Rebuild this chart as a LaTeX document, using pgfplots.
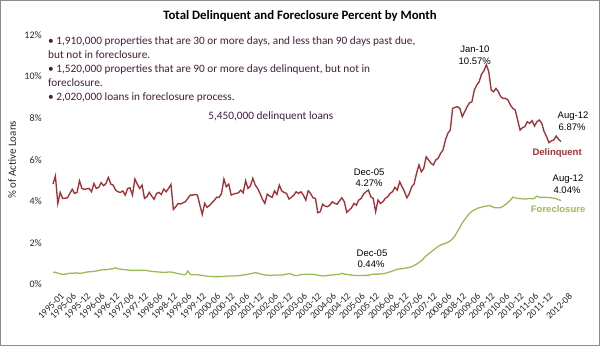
\documentclass[border=0pt]{standalone}
\usepackage{pgfplots}
\pgfplotsset{compat=1.18}
\usepackage{pgfplotstable}
\usepackage{fontspec}
\setmainfont{Carlito}
\newfontfamily\arialf{Liberation Sans}
\definecolor{delq}{RGB}{160,50,55}
\definecolor{fore}{RGB}{155,187,89}
\definecolor{txt}{RGB}{70,28,62}
\pgfplotstableread{
m d f
0 4.83 0.59
1 5.22 0.59
2 3.90 0.55
3 4.43 0.51
4 4.14 0.49
5 4.15 0.50
6 4.17 0.52
7 4.38 0.54
8 4.58 0.54
9 4.38 0.55
10 4.43 0.56
11 4.99 0.53
12 4.62 0.55
13 4.58 0.57
14 4.60 0.60
15 4.62 0.61
16 4.46 0.62
17 4.86 0.63
18 4.62 0.65
19 4.67 0.67
20 4.90 0.70
21 4.75 0.71
22 4.86 0.71
23 5.15 0.73
24 4.83 0.75
25 4.78 0.76
26 4.54 0.81
27 4.46 0.75
28 4.43 0.74
29 4.50 0.72
30 4.30 0.71
31 4.62 0.70
32 4.65 0.68
33 4.30 0.68
34 5.07 0.68
35 4.83 0.68
36 4.62 0.68
37 4.78 0.68
38 4.14 0.69
39 4.22 0.67
40 4.43 0.65
41 4.25 0.63
42 4.10 0.62
43 4.38 0.61
44 4.43 0.60
45 4.33 0.59
46 4.59 0.59
47 4.46 0.59
48 4.62 0.60
49 4.81 0.60
50 3.61 0.58
51 3.74 0.55
52 3.90 0.52
53 3.87 0.50
54 3.93 0.48
55 3.98 0.47
56 4.14 0.65
57 4.30 0.48
58 4.30 0.47
59 4.33 0.47
60 4.30 0.47
61 3.82 0.45
62 3.37 0.44
63 3.90 0.42
64 3.71 0.40
65 3.80 0.39
66 3.93 0.38
67 4.05 0.38
68 4.20 0.38
69 4.19 0.38
70 4.38 0.38
71 5.07 0.39
72 4.70 0.40
73 4.83 0.41
74 4.30 0.41
75 4.35 0.41
76 4.38 0.42
77 4.41 0.42
78 4.54 0.44
79 4.41 0.46
80 4.99 0.47
81 4.62 0.49
82 4.74 0.52
83 5.11 0.54
84 4.78 0.57
85 4.62 0.55
86 4.38 0.51
87 4.10 0.48
88 3.90 0.46
89 4.35 0.45
90 4.25 0.44
91 4.19 0.44
92 4.50 0.45
93 4.33 0.46
94 4.78 0.46
95 4.50 0.46
96 4.43 0.47
97 4.38 0.50
98 4.11 0.52
99 4.19 0.50
100 4.30 0.45
101 4.46 0.43
102 4.38 0.44
103 4.46 0.48
104 4.30 0.48
105 4.06 0.49
106 4.51 0.49
107 4.38 0.49
108 4.17 0.49
109 4.14 0.47
110 3.45 0.45
111 3.50 0.43
112 3.86 0.41
113 3.77 0.42
114 3.74 0.43
115 3.82 0.45
116 3.98 0.46
117 3.90 0.47
118 3.86 0.48
119 4.03 0.49
120 4.17 0.54
121 3.98 0.50
122 3.47 0.49
123 3.58 0.47
124 3.69 0.45
125 3.90 0.44
126 3.82 0.43
127 4.06 0.43
128 4.14 0.43
129 4.35 0.44
130 4.46 0.44
131 4.54 0.44
132 4.22 0.48
133 4.14 0.49
134 3.50 0.50
135 4.06 0.50
136 3.90 0.51
137 3.98 0.52
138 4.14 0.54
139 4.22 0.57
140 4.38 0.61
141 4.46 0.65
142 4.67 0.69
143 4.54 0.73
144 4.94 0.75
145 4.70 0.76
146 4.46 0.78
147 4.17 0.80
148 4.38 0.82
149 4.70 0.86
150 4.84 0.92
151 5.35 0.98
152 5.75 1.06
153 5.42 1.14
154 5.59 1.26
155 6.14 1.38
156 5.99 1.47
157 5.83 1.56
158 5.75 1.66
159 5.99 1.75
160 6.07 1.83
161 6.31 1.90
162 6.47 1.94
163 6.95 1.98
164 7.27 2.03
165 7.43 2.10
166 8.47 2.20
167 8.52 2.35
168 8.55 2.55
169 8.47 2.75
170 8.07 2.96
171 8.31 3.12
172 8.55 3.28
173 8.74 3.42
174 8.79 3.52
175 9.35 3.59
176 9.59 3.65
177 9.75 3.69
178 10.12 3.72
179 10.28 3.75
180 10.57 3.77
181 10.23 3.80
182 9.35 3.77
183 9.27 3.71
184 9.43 3.69
185 9.27 3.69
186 9.03 3.70
187 8.95 3.77
188 8.95 3.85
189 8.87 3.95
190 8.63 4.06
191 8.47 4.20
192 8.39 4.17
193 7.91 4.14
194 7.43 4.13
195 7.54 4.12
196 7.59 4.11
197 7.83 4.12
198 7.75 4.14
199 7.88 4.12
200 7.62 4.15
201 7.83 4.25
202 7.91 4.20
203 7.75 4.19
204 7.35 4.19
205 7.11 4.19
206 6.82 4.18
207 6.91 4.17
208 6.95 4.15
209 7.14 4.13
210 6.98 4.08
211 6.87 4.04
}\datatable
\begin{document}
\begin{tikzpicture}
\begin{axis}[
  at={(0pt,0pt)}, anchor=south west,
  scale only axis, width=510.4pt, height=249.5pt,
  xmin=-0.5, xmax=211.5, ymin=0, ymax=12,
  axis line style={draw=none}, tick style={draw=none},
  clip=false,
  /pgf/number format/assume math mode=true,
  ytick={0,2,4,6,8,10,12},
  yticklabel={\pgfmathprintnumber{\tick}\%},
  yticklabel style={font=\fontsize{10}{12}\selectfont, text=black!85, xshift=-6.5pt},
  xtick={0,5,11,17,23,29,35,41,47,53,59,65,71,77,83,89,95,101,107,113,119,125,131,137,143,149,155,161,167,173,179,185,191,197,203,211},
  xticklabels={1995-01,1995-06,1995-12,1996-06,1996-12,1997-06,1997-12,1998-06,1998-12,1999-06,1999-12,2000-06,2000-12,2001-06,2001-12,2002-06,2002-12,2003-06,2003-12,2004-06,2004-12,2005-06,2005-12,2006-06,2006-12,2007-06,2007-12,2008-06,2008-12,2009-06,2009-12,2010-06,2010-12,2011-06,2011-12,2012-08},
  xticklabel style={font=\fontsize{9.6}{11}\selectfont, text=black!85, rotate=45, anchor=north east, inner sep=0.5pt, yshift=-10pt},
]
\addplot[color=delq, line width=1.35pt] table[x=m, y=d] {\datatable};
\addplot[color=fore, line width=1.3pt] table[x=m, y=f] {\datatable};

\node[font=\fontsize{12.8}{15}\selectfont\bfseries] at (axis cs:102.6,12.91) {Total Delinquent and Foreclosure Percent by Month};
\node[rotate=90, font=\fontsize{11}{13}\selectfont, text=black!85] at (axis cs:-17.0,6) {\% of Active Loans};

\begin{scope}[every node/.style={anchor=base west, inner sep=0pt, text=txt, font=\fontsize{11.3}{13}\selectfont}]
\node at (axis cs:-2.08,11.54) {• 1,910,000 properties that are 30 or more days, and less than 90 days past due,};
\node at (axis cs:-2.08,10.87) {but not in foreclosure.};
\node at (axis cs:-2.08,10.21) {• 1,520,000 properties that are 90 or more days delinquent, but not in};
\node at (axis cs:-2.08,9.54) {foreclosure.};
\node at (axis cs:-2.08,8.87) {• 2,020,000 loans in foreclosure process.};
\end{scope}
\node[text=txt, font=\fontsize{11.3}{13}\selectfont] at (axis cs:90.5,8.06) {5,450,000 delinquent loans};

\begin{scope}[every node/.style={inner sep=0pt, font=\arialf\fontsize{9.5}{11}\selectfont}]
\node at (axis cs:175.2,11.33) {Jan-10};
\node at (axis cs:175.2,10.75) {10.57\%};
\node at (axis cs:216.0,8.10) {Aug-12};
\node at (axis cs:215.6,7.58) {6.87\%};
\node at (axis cs:131.3,5.41) {Dec-05};
\node at (axis cs:131.3,4.88) {4.27\%};
\node at (axis cs:213.9,5.07) {Aug-12};
\node at (axis cs:213.5,4.55) {4.04\%};
\node at (axis cs:132.5,1.52) {Dec-05};
\node at (axis cs:132.1,0.99) {0.44\%};
\node[text=delq, font=\arialf\bfseries\fontsize{9.5}{11}\selectfont] at (axis cs:209.4,6.33) {Delinquent};
\node[text=fore, font=\arialf\bfseries\fontsize{9.5}{11}\selectfont] at (axis cs:209.8,3.63) {Foreclosure};
\end{scope}
\end{axis}
\draw[line width=1.5pt, color=black!45] (-51.05pt,-60.75pt) rectangle (547.45pt,283.75pt);
\end{tikzpicture}
\end{document}
